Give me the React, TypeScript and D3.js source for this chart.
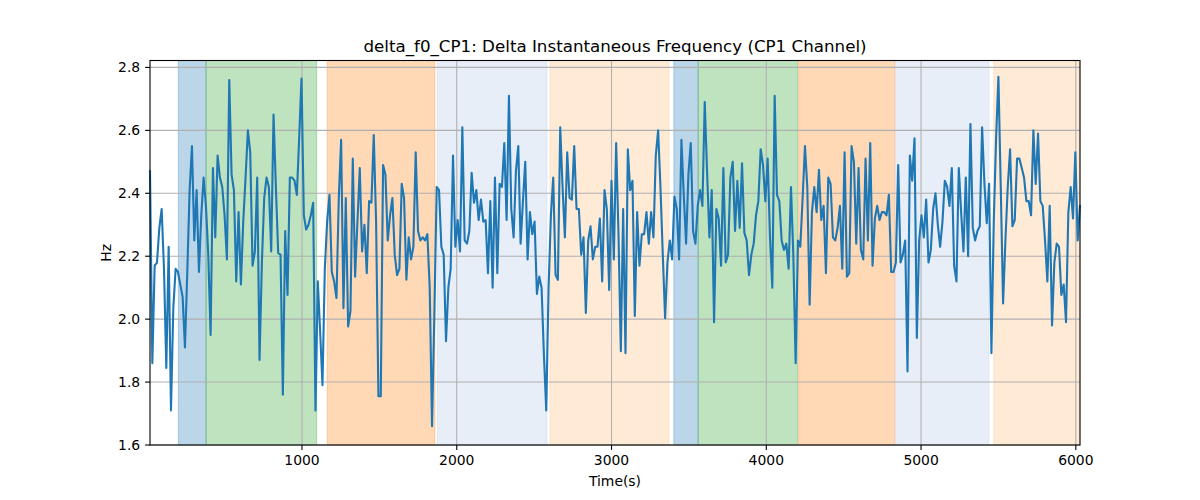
import { useEffect, useRef } from 'react';
import * as d3 from 'd3';

// Sampling of the delta f0 signal (seconds)
const T_START = 18;
const T_STEP = 15.06;

// delta_f0 values (Hz), one per sample
const DELTA_F0 = [
  2.47, 1.86, 2.17, 2.18, 2.29, 2.35, 2.16, 1.845, 2.23, 1.71,
  2.035, 2.16, 2.15, 2.11, 2.07, 1.91, 2.15, 2.41, 2.55, 2.25,
  2.41, 2.15, 2.33, 2.45, 2.36, 2.205, 1.95, 2.48, 2.26, 2.52,
  2.45, 2.42, 2.33, 2.19, 2.76, 2.46, 2.41, 2.12, 2.34, 2.11,
  2.31, 2.45, 2.6, 2.53, 2.17, 2.215, 2.45, 1.87, 2.18, 2.385,
  2.45, 2.42, 2.215, 2.65, 2.42, 2.21, 2.205, 1.76, 2.28, 2.077,
  2.45, 2.45, 2.44, 2.395, 2.575, 2.765, 2.33, 2.285, 2.3, 2.33,
  2.37, 1.71, 2.12, 1.96, 1.79, 2.16, 2.31, 2.395, 2.15, 2.12,
  2.067, 2.385, 2.57, 2.035, 2.385, 1.977, 2.025, 2.51, 2.135, 2.31,
  2.48, 2.215, 2.3, 2.146, 2.375, 2.37, 2.585, 2.31, 1.755, 1.755,
  2.49, 2.46, 2.25, 2.33, 2.385, 2.205, 2.14, 2.16, 2.43, 2.385,
  2.125, 2.26, 2.19, 2.23, 2.53, 2.28, 2.25, 2.26, 2.25, 2.27,
  2.1, 1.66, 2.014, 2.42, 2.41, 2.23, 2.205, 1.93, 2.1, 2.16,
  2.52, 2.23, 2.315, 2.215, 2.61, 2.25, 2.24, 2.28, 2.465, 2.37,
  2.41, 2.315, 2.38, 2.31, 2.315, 2.146, 2.375, 2.1, 2.45, 2.146,
  2.43, 2.42, 2.56, 2.315, 2.71, 2.35, 2.26, 2.47, 2.55, 2.24,
  2.375, 2.5, 2.19, 2.34, 2.27, 2.31, 2.08, 2.135, 2.1, 1.887,
  1.71, 2.1, 2.33, 2.45, 2.14, 2.125, 2.61, 2.42, 2.26, 2.53,
  2.385, 2.38, 2.55, 2.35, 2.35, 2.205, 2.26, 2.02, 2.25, 2.295,
  2.19, 2.23, 2.23, 2.32, 2.12, 2.41, 2.35, 2.093, 2.44, 2.19,
  2.56, 2.27, 1.898, 2.35, 1.892, 2.54, 2.41, 2.44, 2.01, 2.34,
  2.17, 2.27, 2.27, 2.34, 2.24, 2.34, 2.26, 2.52, 2.6, 2.42,
  2.205, 2.003, 2.18, 2.25, 2.19, 2.39, 2.35, 2.19, 2.57, 2.395,
  2.24, 2.46, 2.56, 2.28, 2.24, 2.36, 2.41, 2.36, 2.69, 2.47,
  2.26, 2.41, 1.99, 2.35, 2.32, 2.17, 2.48, 2.18, 2.205, 2.45,
  2.5, 2.28, 2.44, 2.29, 2.495, 2.275, 2.25, 2.14, 2.205, 2.24,
  2.33, 2.375, 2.54, 2.49, 2.375, 2.51, 2.26, 2.1, 2.71, 2.395,
  2.375, 2.25, 2.22, 2.24, 2.16, 2.42, 2.205, 1.86, 2.25, 2.23,
  2.385, 2.55, 2.42, 2.046, 2.34, 2.42, 2.34, 2.475, 2.315, 2.36,
  2.146, 2.45, 2.43, 2.26, 2.25, 2.29, 2.36, 2.16, 2.53, 2.135,
  2.146, 2.55, 2.5, 2.24, 2.48, 2.22, 2.19, 2.51, 2.25, 2.56,
  2.17, 2.32, 2.36, 2.315, 2.34, 2.34, 2.33, 2.395, 2.15, 2.15,
  2.18, 2.49, 2.18, 2.205, 2.25, 1.834, 2.52, 2.44, 2.575, 1.94,
  2.25, 2.33, 2.26, 2.38, 2.18, 2.22, 2.35, 2.4, 2.3, 2.23,
  2.31, 2.44, 2.42, 2.36, 2.48, 2.17, 2.12, 2.48, 2.34, 2.215,
  2.45, 2.2, 2.62, 2.29, 2.25, 2.28, 2.295, 2.61, 2.43, 2.305,
  2.43, 1.892, 2.31, 2.575, 2.77, 2.42, 2.05, 2.25, 2.42, 2.54,
  2.295, 2.315, 2.51, 2.51, 2.48, 2.45, 2.375, 2.375, 2.33, 2.6,
  2.43, 2.59, 2.375, 2.36, 2.25, 2.12, 2.36, 1.98, 2.18, 2.24,
  2.23, 2.077, 2.11, 1.99, 2.34, 2.42, 2.32, 2.53, 2.25, 2.36,
];

// Shaded segments (start, end in seconds) and their colours
const SEG_START = [201, 380, 1163, 1874, 2602, 3403, 3560, 4209, 4835, 5470];
const SEG_END = [380, 1095, 1859, 2583, 3371, 3560, 4202, 4829, 5438, 6026];
const SEG_COLOR = ['#1f77b4', '#2ca02c', '#ff7f0e', '#aec7e8', '#ffbb78',
  '#1f77b4', '#2ca02c', '#ff7f0e', '#aec7e8', '#ffbb78'];

const X_TICKS = [1000, 2000, 3000, 4000, 5000, 6000];
const Y_TICKS = [1.6, 1.8, 2.0, 2.2, 2.4, 2.6, 2.8];

const WIDTH = 1200;
const HEIGHT = 500;
const FONT = 'DejaVu Sans, sans-serif';

export default function App() {
  const svgRef = useRef<SVGSVGElement>(null);

  useEffect(() => {
    if (!svgRef.current) return;
    const svg = d3.select(svgRef.current);
    svg.selectAll('*').remove();

    const margin = { top: 60.5, right: 120, bottom: 55, left: 150 };
    const innerW = WIDTH - margin.left - margin.right;
    const innerH = HEIGHT - margin.top - margin.bottom;

    const data = DELTA_F0.map((v, i) => ({ t: T_START + i * T_STEP, v }));

    const x = d3.scaleLinear()
      .domain([T_START, T_START + (DELTA_F0.length - 1) * T_STEP])
      .range([0, innerW]);
    const y = d3.scaleLinear().domain([1.6, 2.822]).range([innerH, 0]);

    const g = svg.append('g').attr('transform', `translate(${margin.left},${margin.top})`);

    // Segment shading
    SEG_START.forEach((s, i) => {
      const x0 = x(s);
      const x1 = Math.min(x(SEG_END[i]), innerW);
      g.append('rect')
        .attr('x', x0)
        .attr('y', 0)
        .attr('width', x1 - x0)
        .attr('height', innerH)
        .attr('fill', SEG_COLOR[i])
        .attr('fill-opacity', 0.3)
        .attr('stroke', SEG_COLOR[i])
        .attr('stroke-opacity', 0.3)
        .attr('stroke-width', 1);
    });

    // Grid
    g.append('g')
      .selectAll('line')
      .data(X_TICKS)
      .join('line')
      .attr('x1', d => x(d)).attr('x2', d => x(d))
      .attr('y1', 0).attr('y2', innerH)
      .attr('stroke', '#b0b0b0')
      .attr('stroke-width', 1.1);
    g.append('g')
      .selectAll('line')
      .data(Y_TICKS)
      .join('line')
      .attr('x1', 0).attr('x2', innerW)
      .attr('y1', d => y(d)).attr('y2', d => y(d))
      .attr('stroke', '#b0b0b0')
      .attr('stroke-width', 1.1);

    // Signal line
    const line = d3.line<{ t: number; v: number }>()
      .x(d => x(d.t))
      .y(d => y(d.v));
    g.append('path')
      .datum(data)
      .attr('d', line)
      .attr('fill', 'none')
      .attr('stroke', '#1f77b4')
      .attr('stroke-width', 2.1)
      .attr('stroke-linejoin', 'round')
      .attr('stroke-linecap', 'square');

    // Spines
    g.append('rect')
      .attr('x', 0).attr('y', 0)
      .attr('width', innerW).attr('height', innerH)
      .attr('fill', 'none')
      .attr('stroke', '#000')
      .attr('stroke-width', 1.1);

    // X ticks
    const xt = g.append('g').selectAll('g').data(X_TICKS).join('g')
      .attr('transform', d => `translate(${x(d)},${innerH})`);
    xt.append('line').attr('y2', 4.9).attr('stroke', '#000').attr('stroke-width', 1.1);
    xt.append('text')
      .attr('y', 19.5)
      .attr('text-anchor', 'middle')
      .attr('font-family', FONT)
      .attr('font-size', '13.9px')
      .attr('fill', '#000')
      .text(d => String(d));

    // Y ticks
    const yt = g.append('g').selectAll('g').data(Y_TICKS).join('g')
      .attr('transform', d => `translate(0,${y(d)})`);
    yt.append('line').attr('x2', -4.9).attr('stroke', '#000').attr('stroke-width', 1.1);
    yt.append('text')
      .attr('x', -9.8)
      .attr('dy', '0.36em')
      .attr('text-anchor', 'end')
      .attr('font-family', FONT)
      .attr('font-size', '13.9px')
      .attr('fill', '#000')
      .text(d => d.toFixed(1));

    // Axis labels
    g.append('text')
      .attr('x', innerW / 2)
      .attr('y', innerH + 41)
      .attr('text-anchor', 'middle')
      .attr('font-family', FONT)
      .attr('font-size', '13.9px')
      .attr('fill', '#000')
      .text('Time(s)');

    g.append('text')
      .attr('transform', 'rotate(-90)')
      .attr('x', -innerH / 2)
      .attr('y', -39)
      .attr('text-anchor', 'middle')
      .attr('font-family', FONT)
      .attr('font-size', '13.9px')
      .attr('fill', '#000')
      .text('Hz');

    // Title
    g.append('text')
      .attr('x', innerW / 2)
      .attr('y', -8.5)
      .attr('text-anchor', 'middle')
      .attr('font-family', FONT)
      .attr('font-size', '16.7px')
      .attr('fill', '#000')
      .text('delta_f0_CP1: Delta Instantaneous Frequency (CP1 Channel)');
  }, []);

  return (
    <svg
      ref={svgRef}
      width={WIDTH}
      height={HEIGHT}
      style={{ position: 'absolute', left: 0, top: 0, background: '#fff' }}
    />
  );
}
